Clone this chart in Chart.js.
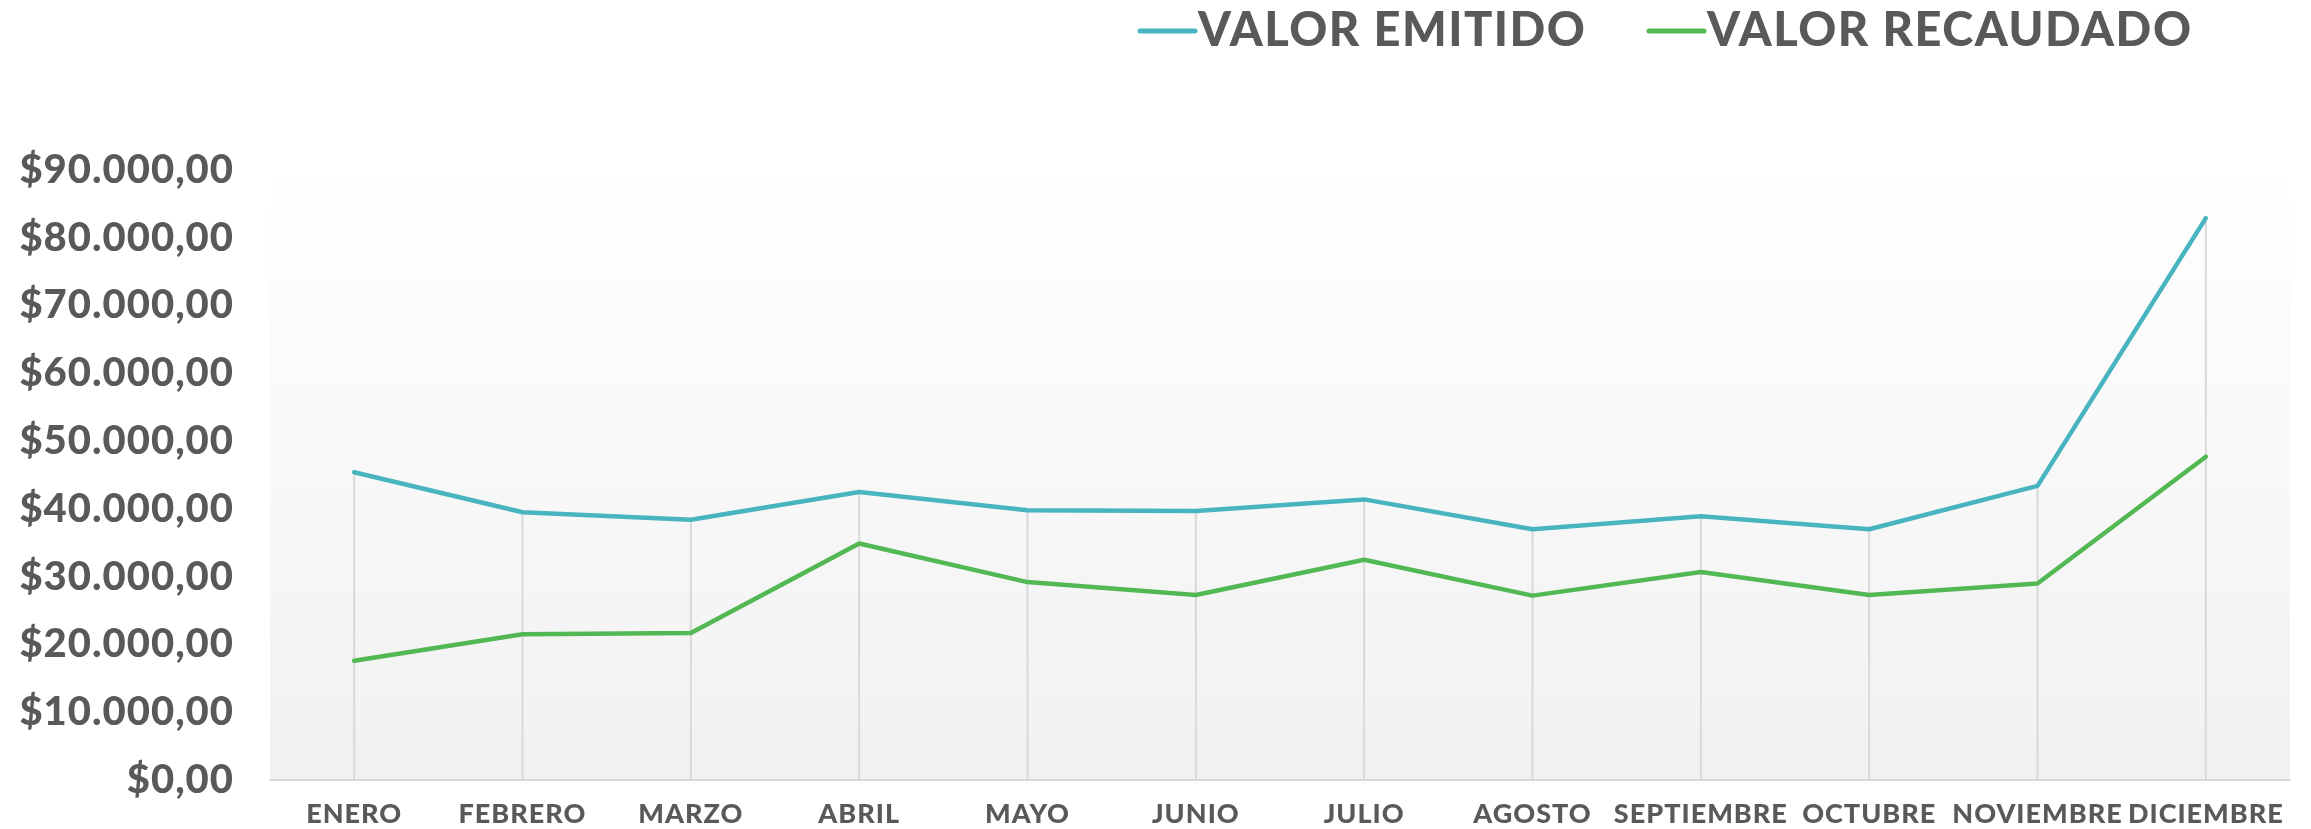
<!DOCTYPE html>
<html>
<head>
<meta charset="utf-8">
<script src="https://cdn.jsdelivr.net/npm/chart.js@4.4.1/dist/chart.umd.min.js"></script>
<style>
  html, body { margin: 0; padding: 0; background: #ffffff; }
  #wrap { width: 2311px; height: 829px; position: relative; }
</style>
</head>
<body>
<div id="wrap"><canvas id="c" width="2311" height="829"></canvas></div>
<script>
const categories = ["ENERO", "FEBRERO", "MARZO", "ABRIL", "MAYO", "JUNIO", "JULIO", "AGOSTO", "SEPTIEMBRE", "OCTUBRE", "NOVIEMBRE", "DICIEMBRE"];
const valorEmitido = [45400, 39500, 38400, 42500, 39800, 39700, 41400, 37000, 38900, 37000, 43400, 82900];
const valorRecaudado = [17600, 21500, 21700, 34900, 29200, 27300, 32500, 27200, 30700, 27300, 29000, 47700];
const seriesNames = ["VALOR EMITIDO", "VALOR RECAUDADO"];
const yTicks = [0, 10000, 20000, 30000, 40000, 50000, 60000, 70000, 80000, 90000];

const TEXT = "#595959";
const TEAL = "#47b4bf";
const GREEN = "#52b853";

function fmtMoney(v) {
  const parts = v.toFixed(2).split(".");
  const intPart = parts[0].replace(/\B(?=(\d{3})+(?!\d))/g, ".");
  return "$" + intPart + "," + parts[1];
}

const bgPlugin = {
  id: "plotBg",
  beforeDraw(chart) {
    const { ctx, chartArea: a } = chart;
    ctx.letterSpacing = "1px";
    const g = ctx.createLinearGradient(0, a.top, 0, a.bottom);
    g.addColorStop(0, "#ffffff");
    g.addColorStop(1, "#f1f1f1");
    ctx.save();
    ctx.fillStyle = g;
    ctx.fillRect(a.left, a.top, a.right - a.left, a.bottom - a.top);
    ctx.restore();
  },
  afterDraw(chart) {
    chart.ctx.letterSpacing = "0px";
  }
};

const dropLines = {
  id: "dropLines",
  beforeDatasetsDraw(chart) {
    const { ctx, chartArea: a, scales } = chart;
    ctx.save();
    ctx.strokeStyle = "#d9d9d9";
    ctx.lineWidth = 2;
    chart.data.labels.forEach((_, i) => {
      const top = Math.max(...chart.data.datasets.map(d => d.data[i]));
      const x = scales.x.getPixelForValue(i);
      const y = scales.y.getPixelForValue(top);
      ctx.beginPath();
      ctx.moveTo(x, y);
      ctx.lineTo(x, a.bottom);
      ctx.stroke();
    });
    ctx.restore();
  }
};

const legendPlugin = {
  id: "customLegend",
  afterDraw(chart) {
    const { ctx } = chart;
    const items = [
      { x: 1140, label: chart.data.datasets[0].label, color: chart.data.datasets[0].borderColor },
      { x: 1649, label: chart.data.datasets[1].label, color: chart.data.datasets[1].borderColor }
    ];
    ctx.save();
    ctx.font = "900 47px Lato";
    ctx.letterSpacing = "1.5px";
    ctx.textBaseline = "middle";
    ctx.textAlign = "left";
    items.forEach(it => {
      ctx.strokeStyle = it.color;
      ctx.lineWidth = 5;
      ctx.lineCap = "round";
      ctx.beginPath();
      ctx.moveTo(it.x, 31);
      ctx.lineTo(it.x + 55, 31);
      ctx.stroke();
      ctx.fillStyle = TEXT;
      ctx.fillText(it.label, it.x + 58, 31);
    });
    ctx.restore();
  }
};

new Chart(document.getElementById("c"), {
  type: "line",
  data: {
    labels: categories,
    datasets: [
      { label: seriesNames[0], data: valorEmitido, borderColor: TEAL, backgroundColor: TEAL, borderWidth: 4.5, pointRadius: 0, tension: 0, borderCapStyle: "round", borderJoinStyle: "round" },
      { label: seriesNames[1], data: valorRecaudado, borderColor: GREEN, backgroundColor: GREEN, borderWidth: 4.5, pointRadius: 0, tension: 0, borderCapStyle: "round", borderJoinStyle: "round" }
    ]
  },
  options: {
    responsive: false,
    animation: false,
    devicePixelRatio: 1,
    layout: { padding: { top: 170, right: 21, left: 0, bottom: 0 } },
    plugins: { legend: { display: false }, tooltip: { enabled: false } },
    scales: {
      x: {
        offset: true,
        grid: { display: false, drawTicks: false },
        border: { display: true, color: "#d9d9d9", width: 2 },
        ticks: { color: TEXT, font: { family: "Lato", weight: "900", size: 27 }, padding: 18, maxRotation: 0, autoSkip: false },
        afterFit(scale) { scale.height = 49; scale.paddingLeft = 0; scale.paddingRight = 0; }
      },
      y: {
        min: 0, max: 90000,
        afterBuildTicks(scale) { scale.ticks = yTicks.map(v => ({ value: v })); },
        grid: { display: false, drawTicks: false },
        border: { display: false },
        ticks: { color: TEXT, font: { family: "Lato", weight: "900", size: 40 }, padding: 36, callback: v => fmtMoney(v) },
        afterFit(scale) { scale.width = 270; scale.paddingTop = 0; scale.paddingBottom = 0; }
      }
    }
  },
  plugins: [bgPlugin, dropLines, legendPlugin]
});
</script>
</body>
</html>
